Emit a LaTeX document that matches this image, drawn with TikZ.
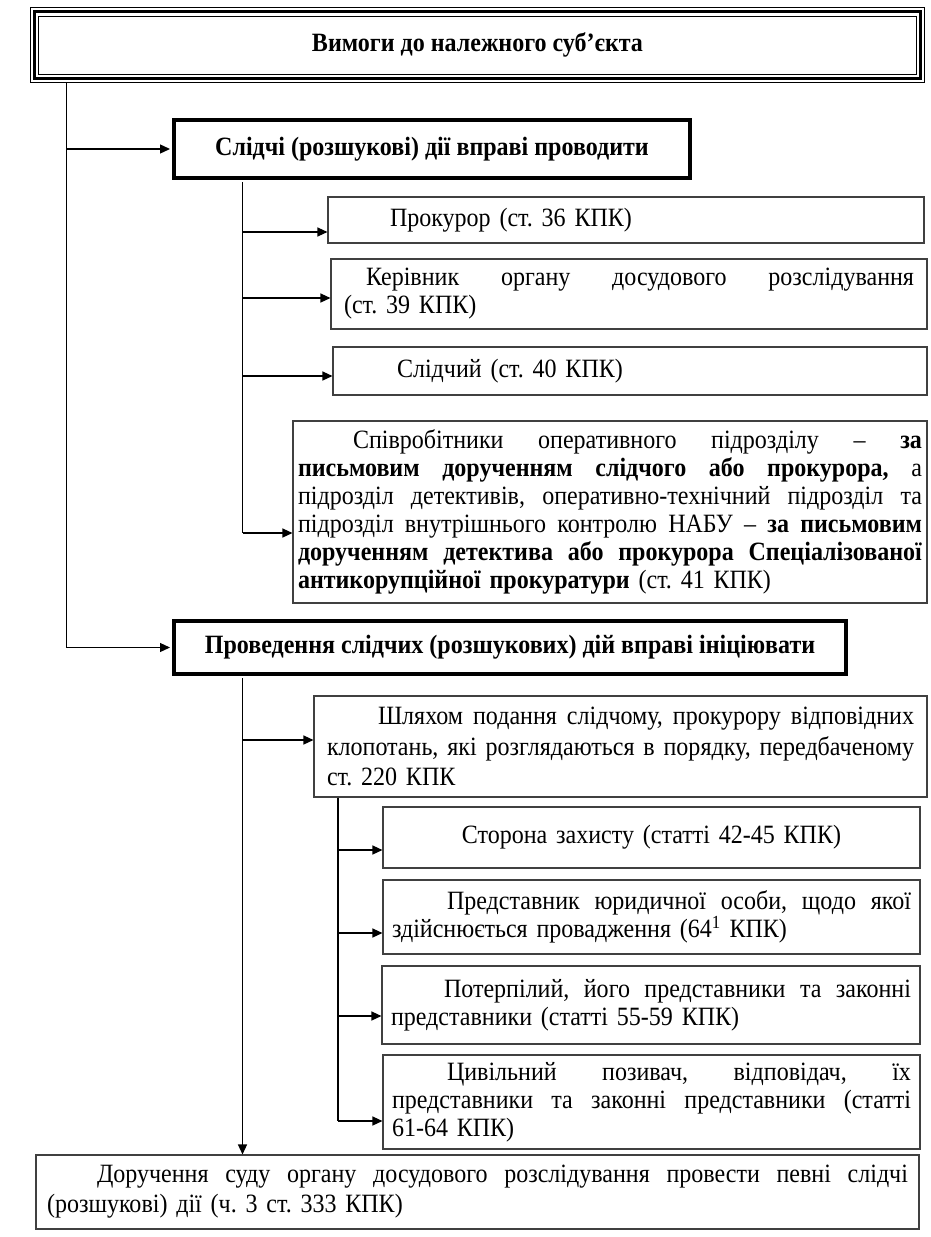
\documentclass[tikz,border=0pt]{standalone}
\usepackage{fontspec}
\setmainfont{Liberation Serif}[FakeStretch=0.91]
\usetikzlibrary{arrows.meta,calc}
\newcommand\jl[1]{\leavevmode\hbox to \hsize{\spaceskip=0.25em plus 1fil\xspaceskip=0.25em plus 1fil\relax #1}\\}
\tikzset{
  every node/.style={font=\fontsize{26.4}{28}\selectfont},
  box/.style={draw=black!75, line width=1.1pt, rectangle, inner ysep=0pt, align=left,
    font=\fontsize{26.4}{28}\selectfont},
  head/.style={draw=black, line width=4pt, rectangle, inner sep=0pt, align=center,
    font=\fontsize{26.4}{28}\selectfont\bfseries},
  conn/.style={draw=black, line width=1.3pt, -{Triangle[length=10pt,width=9pt]}},
  spine/.style={draw=black, line width=1.3pt},
}
\begin{document}
\setlength{\parindent}{0pt}\frenchspacing
\begin{tikzpicture}[x=1pt,y=-1pt]
\useasboundingbox (0,0) rectangle (930,1237);

% top heading with triple border
\node[draw=none, inner sep=0pt, minimum width=894pt, minimum height=74.5pt,
  font=\fontsize{26.4}{28}\selectfont\bfseries] (top) at (477.5,45.3) {Вимоги до належного суб’єкта};
\draw[line width=1.2pt] (top.north west) rectangle (top.south east);
\draw[line width=3pt] ([shift={(4pt,-4pt)}]top.north west) rectangle ([shift={(-4pt,4pt)}]top.south east);
\draw[line width=1.2pt] ([shift={(8.5pt,-8.5pt)}]top.north west) rectangle ([shift={(-8.5pt,8.5pt)}]top.south east);

% second-level headings
\node[head, minimum width=516pt, minimum height=58pt] (h1) at (432,149) {Слідчі (розшукові) дії вправі проводити};
\node[head, minimum width=672pt, minimum height=53pt] (h2) at (510,647.5) {Проведення слідчих (розшукових) дій вправі ініціювати};

% boxes under h1
\node[box, minimum width=596pt, minimum height=46pt, inner xsep=12pt, text width=572pt] (prok) at (626,220)
  {\hspace*{50pt}Прокурор (ст. 36 КПК)};
\node[box, minimum width=596pt, minimum height=70pt, inner xsep=13pt, text width=570pt] (kerv) at (629,294)
  {\jl{\hspace*{22pt}Керівник органу досудового розслідування}(ст. 39 КПК)};
\node[box, minimum width=594pt, minimum height=48pt, inner xsep=12pt, text width=570pt] (slid) at (630,371)
  {\hspace*{52pt}Слідчий (ст. 40 КПК)};
\node[box, minimum width=634pt, minimum height=182pt, inner xsep=5pt, text width=624pt] (big) at (610,512)
  {\jl{\hspace*{55pt}Співробітники оперативного підрозділу – \textbf{за}}%
   \jl{\textbf{письмовим дорученням слідчого або прокурора,} а}%
   \jl{підрозділ детективів, оперативно-технічний підрозділ та}%
   \jl{підрозділ внутрішнього контролю НАБУ – \textbf{за письмовим}}%
   \jl{\textbf{дорученням детектива або прокурора Спеціалізованої}}%
   \textbf{антикорупційної прокуратури} (ст. 41 КПК)};

% boxes under h2
\node[box, minimum width=613pt, minimum height=101pt, inner xsep=13pt, text width=587pt,
  font=\fontsize{26.4}{30.5}\selectfont] (shl) at (620.5,746.5)
  {\jl{\hspace*{51pt}Шляхом подання слідчому, прокурору відповідних}%
   \jl{клопотань, які розглядаються в порядку, передбаченому}%
   ст. 220 КПК};
\node[box, minimum width=537pt, minimum height=61pt, inner xsep=9pt, text width=519pt, align=center] (stor) at (651.5,837.5)
  {Сторона захисту (статті 42-45 КПК)};
\node[box, minimum width=537pt, minimum height=74pt, inner xsep=9pt, text width=519pt] (pred) at (651.5,917)
  {\jl{\hspace*{55pt}Представник юридичної особи, щодо якої}%
   здійснюється провадження (64\textsuperscript{1} КПК)};
\node[box, minimum width=538pt, minimum height=78pt, inner xsep=9pt, text width=520pt] (pot) at (651,1005)
  {\jl{\hspace*{53pt}Потерпілий, його представники та законні}%
   представники (статті 55-59 КПК)};
\node[box, minimum width=537pt, minimum height=94pt, inner xsep=9pt, text width=519pt] (cyv) at (651.5,1102)
  {\jl{\hspace*{55pt}Цивільний позивач, відповідач, їх}%
   \jl{представники та законні представники (статті}%
   61-64 КПК)};
\node[box, minimum width=883pt, minimum height=74pt, inner xsep=11pt, text width=861pt,
  font=\fontsize{26.4}{30}\selectfont] (bot) at (477.5,1192)
  {\jl{\hspace*{50pt}Доручення суду органу досудового розслідування провести певні слідчі}%
   (розшукові) дії (ч. 3 ст. 333 КПК)};

% junction coordinates
\coordinate (x1) at (66.7,0);
\coordinate (a1) at (242.5,232);
\coordinate (a2) at (242.5,298);
\coordinate (a3) at (242.5,376);
\coordinate (a4) at (242.5,533);
\coordinate (b0) at (242.5,740);
\coordinate (c1) at (338,850);
\coordinate (c2) at (338,933);
\coordinate (c3) at (338,1016);
\coordinate (c4) at (338,1121);

% main spine
\draw[conn, shorten >=2pt] (top.south -| x1) |- (h2.west);
\draw[conn, shorten >=2pt] (x1 |- h1.west) -- (h1.west);

% spine under h1
\draw[spine] ([yshift=-2pt]h1.south -| a1) -- (a4);
\draw[conn] (a1) -- (a1 -| prok.west);
\draw[conn] (a2) -- (a2 -| kerv.west);
\draw[conn] (a3) -- (a3 -| slid.west);
\draw[conn] (a4) -- (a4 -| big.west);

% spine under h2
\draw[conn] ([yshift=-2pt]h2.south -| b0) -- (bot.north -| b0);
\draw[conn] (b0) -- (b0 -| shl.west);

% spine under shl
\draw[spine] (shl.south -| c1) -- (c4);
\draw[conn] (c1) -- (c1 -| stor.west);
\draw[conn] (c2) -- (c2 -| pred.west);
\draw[conn] (c3) -- (c3 -| pot.west);
\draw[conn] (c4) -- (c4 -| cyv.west);
\end{tikzpicture}
\end{document}
